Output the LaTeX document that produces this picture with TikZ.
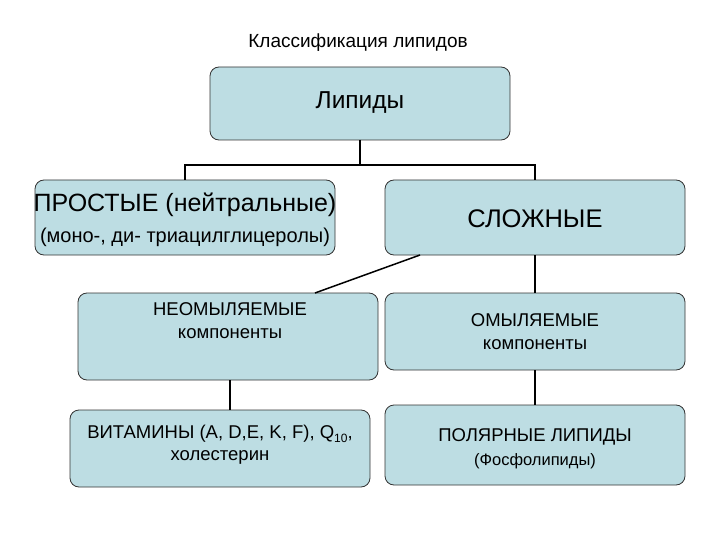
\documentclass[tikz,border=0pt]{standalone}
\usepackage{fontspec}
\setmainfont{Liberation Sans}
\definecolor{boxfill}{HTML}{BDDDE3}
\begin{document}
\begin{tikzpicture}[x=1pt,y=-1pt,
  bx/.style={draw=black!80,line width=0.8pt,fill=boxfill,rounded corners=9pt},
  ln/.style={line width=1.5pt}]
\useasboundingbox (0,0) rectangle (720,540);
\node (title) at (358,43) [font=\fontsize{19}{22}\selectfont] {Классификация липидов};
\draw[bx] (210,67) rectangle (510,140);
\node (lip) at (360,103) [font=\fontsize{24.5}{28}\selectfont] {Липиды};
\draw[bx] (35,180) rectangle (335,255);
\node (pr1) at (185,205) [font=\fontsize{25}{28}\selectfont] {ПРОСТЫЕ (нейтральные)};
\node (pr2) at (185,237) [font=\fontsize{20}{24}\selectfont] {(моно-, ди- триацилглицеролы)};
\draw[bx] (385,180) rectangle (685,255);
\node (sl) at (535,219) [font=\fontsize{25.5}{28}\selectfont] {СЛОЖНЫЕ};
\draw[bx] (78,293) rectangle (378,380);
\node (neo) at (230,321) [align=center,font=\fontsize{18.5}{23}\selectfont] {НЕОМЫЛЯЕМЫЕ\\компоненты};
\draw[bx] (385,293) rectangle (685,370);
\node (om) at (535,332) [align=center,font=\fontsize{18.5}{23}\selectfont] {ОМЫЛЯЕМЫЕ\\компоненты};
\draw[bx] (70,410) rectangle (370,487);
\node (vit) at (220,445) [align=center,font=\fontsize{18.5}{22}\selectfont] {ВИТАМИНЫ (A, D,E, K, F), Q\raisebox{-0.35ex}{\fontsize{12}{14}\selectfont 10},\\холестерин};
\draw[bx] (385,405) rectangle (685,485);
\node (pol) at (535,449) [align=center,font=\fontsize{18.5}{24}\selectfont] {ПОЛЯРНЫЕ ЛИПИДЫ\\{\fontsize{16.5}{20}\selectfont(Фосфолипиды)}};
\coordinate (a) at (360,140);
\coordinate (b) at (360,165);
\draw[ln] (a) -- (b);
\draw[ln] (185,180) -- (185,165) -- (535,165) -- (535,180);
\draw[ln] (420,255) -- (315,293);
\draw[ln] (535,255) -- (535,293);
\draw[ln] (230,380) -- (230,410);
\draw[ln] (535,370) -- (535,405);
\end{tikzpicture}
\end{document}
